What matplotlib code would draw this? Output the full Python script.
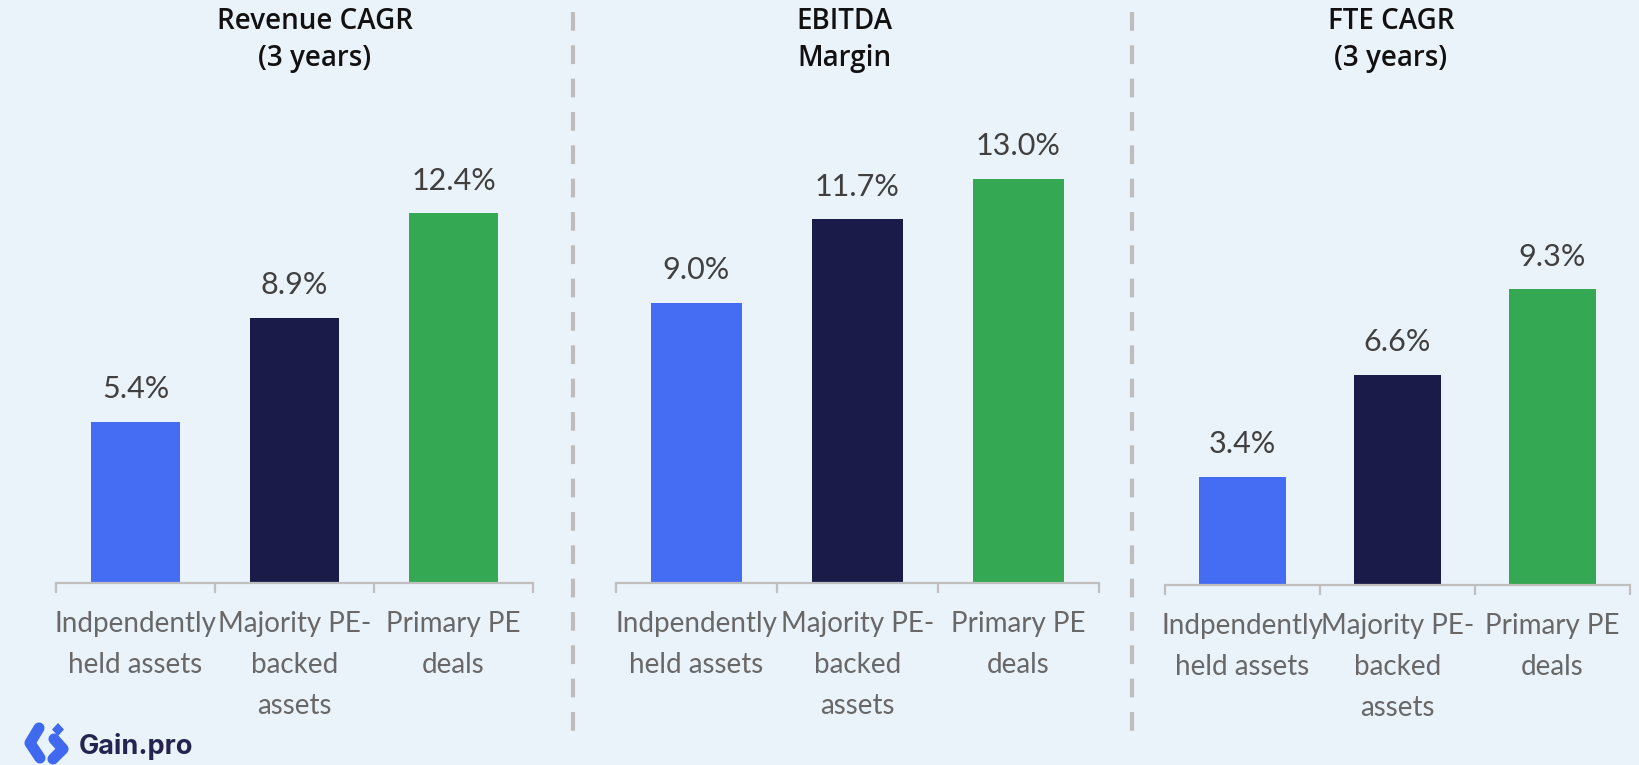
import matplotlib
matplotlib.use("Agg")
import matplotlib.pyplot as plt
from matplotlib.lines import Line2D

plt.rcParams['lines.scale_dashes'] = False

# ---- data ----
categories = ["Indpendently\nheld assets", "Majority PE-\nbacked\nassets", "Primary PE\ndeals"]
titles = ["Revenue CAGR\n(3 years)", "EBITDA\nMargin", "FTE CAGR\n(3 years)"]
revenue_cagr = [5.4, 8.9, 12.4]
ebitda_margin = [9.0, 11.7, 13.0]
fte_cagr = [3.4, 6.6, 9.3]
panel_values = [revenue_cagr, ebitda_margin, fte_cagr]

# ---- style ----
W, H = 1640, 765
BG = "#EAF2FA"
bar_colors = ["#456DF4", "#1B1B4A", "#34A853"]
axis_gray = "#BFBFBF"
dash_gray = "#BDBDBD"

fig = plt.figure(figsize=(W / 100, H / 100), dpi=100, facecolor=BG)

# panel geometry in pixels: (x0, x1), baseline y, top y, ylim max
panels = [((56, 533), 583, 100, 16.2),
          ((616, 1099), 583, 100, 15.53),
          ((1165, 1630), 585, 100, 15.25)]
title_x = [315, 844, 1391]


def rect(x0, x1, yb, yt):
    return [x0 / W, 1 - yb / H, (x1 - x0) / W, (yb - yt) / H]


for i, ((x0, x1), yb, yt, ymax) in enumerate(panels):
    ax = fig.add_axes(rect(x0, x1, yb, yt))
    ax.set_facecolor("none")
    vals = panel_values[i]
    xs = list(range(len(categories)))
    bars = ax.bar(xs, vals, width=0.56, color=bar_colors, zorder=2)
    ax.set_xlim(-0.5, len(categories) - 0.5)
    ax.set_ylim(0, ymax)
    for b, v in zip(bars, vals):
        ax.annotate(f"{v:.1f}%", (b.get_x() + b.get_width() / 2, b.get_height()),
                    xytext=(0, 17), textcoords="offset points",
                    ha="center", va="baseline", fontsize=22,
                    family="Lato", color="#404040")
    for s in ["top", "right", "left"]:
        ax.spines[s].set_visible(False)
    ax.spines["bottom"].set_color(axis_gray)
    ax.spines["bottom"].set_linewidth(1.6)
    ax.set_yticks([])
    ax.set_xticks(xs)
    ax.set_xticklabels(categories, fontsize=20, family="Lato",
                       color="#686868", linespacing=1.72, va="top")
    ax.tick_params(axis="x", which="major", length=0, pad=20)
    ax.set_xticks([-0.5, 0.5, 1.5, 2.5], minor=True)
    ax.tick_params(axis="x", which="minor", length=7.5, width=1.6, color=axis_gray,
                   direction="out")

    # title (two lines, positioned by baseline)
    l1, l2 = titles[i].split("\n")
    fig.text(title_x[i] / W, 1 - 29 / H, l1, ha="center", va="baseline",
             fontsize=20, family="Open Sans", fontweight="semibold", color="#111111")
    fig.text(title_x[i] / W, 1 - 66 / H, l2, ha="center", va="baseline",
             fontsize=20, family="Open Sans", fontweight="semibold", color="#111111")

# dashed separators
for xsep, yend in [(573, 740), (1132, 745)]:
    ln = Line2D([xsep / W, xsep / W], [1 - 12 / H, 1 - yend / H], transform=fig.transFigure,
                color=dash_gray, linewidth=3.0, dashes=(13.5, 10.5), solid_capstyle="butt",
                dash_capstyle="butt")
    fig.add_artist(ln)

# logo overlay
ov = fig.add_axes([0, 0, 1, 1])
ov.set_xlim(0, W)
ov.set_ylim(H, 0)
ov.axis("off")
ov.patch.set_visible(False)
logo_blue = "#3F6AF0"
ov.plot([39, 30, 40], [728, 743, 758], color=logo_blue, linewidth=8, solid_capstyle="round",
        solid_joinstyle="round")
ov.plot([54, 63, 53], [739, 749, 759], color=logo_blue, linewidth=8, solid_capstyle="round",
        solid_joinstyle="round")
ov.fill([58, 64, 58, 52], [723, 729.5, 736, 729.5], color=logo_blue, lw=0)
ov.text(79, 754, "Gain.pro", fontsize=19.5, family="Inter", fontweight="bold",
        color="#24244F", va="baseline", ha="left")

fig.savefig("out.png", dpi=100, facecolor=BG)
